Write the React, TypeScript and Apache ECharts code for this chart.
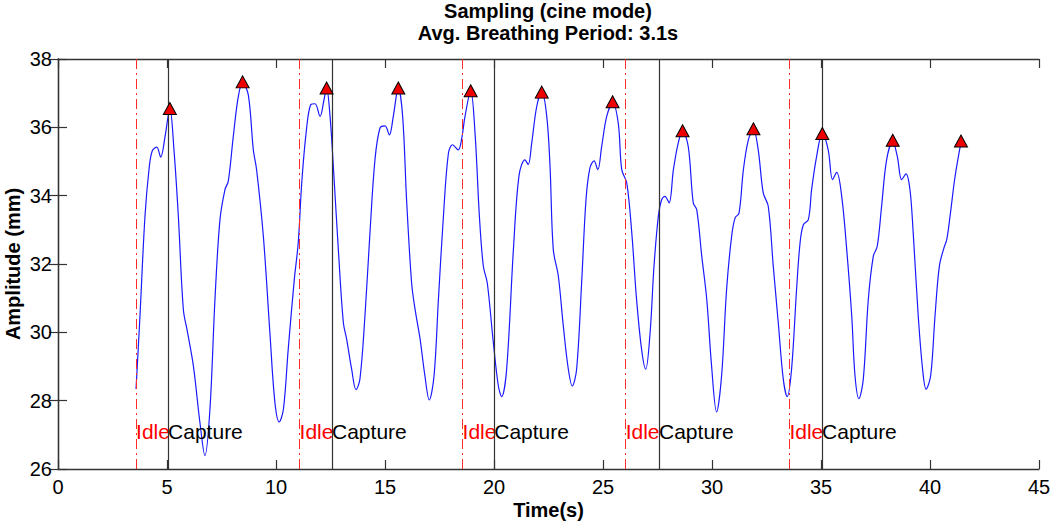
import React, { useEffect, useRef } from "react";
import * as echarts from "echarts";

const timeS = [
  3.58, 3.76, 3.99, 4.19, 4.33, 4.53, 4.71, 4.91, 5.13, 5.32, 5.52, 5.75, 5.93, 6.21, 6.51, 6.74, 6.97, 7.2, 7.43, 7.66,
  7.81, 8.04, 8.27, 8.47, 8.73, 8.96, 9.11, 9.42, 9.72, 9.95, 10.15, 10.34, 10.56, 10.84, 11.02, 11.18, 11.38, 11.59,
  11.79, 12.02, 12.2, 12.32, 12.48, 12.63, 12.86, 13.09, 13.24, 13.47, 13.67, 13.85, 14.08, 14.31, 14.54, 14.77, 15.0,
  15.2, 15.38, 15.61, 15.81, 15.99, 16.22, 16.38, 16.61, 16.83, 17.03, 17.25, 17.45, 17.68, 17.91, 18.1, 18.36, 18.52,
  18.67, 18.93, 19.13, 19.33, 19.51, 19.69, 19.97, 20.2, 20.35, 20.58, 20.89, 21.15, 21.42, 21.57, 21.73, 21.96, 22.19,
  22.42, 22.57, 22.72, 22.95, 23.18, 23.41, 23.59, 23.79, 24.02, 24.22, 24.4, 24.59, 24.76, 24.94, 25.17, 25.44, 25.7,
  25.86, 26.09, 26.32, 26.54, 26.77, 26.96, 27.16, 27.34, 27.54, 27.69, 27.84, 28.03, 28.23, 28.45, 28.65, 28.91, 29.14,
  29.3, 29.53, 29.76, 29.98, 30.21, 30.44, 30.67, 30.9, 31.06, 31.24, 31.44, 31.67, 31.9, 32.12, 32.35, 32.58, 32.81,
  33.04, 33.27, 33.45, 33.65, 33.88, 34.04, 34.19, 34.42, 34.57, 34.8, 35.06, 35.33, 35.53, 35.72, 35.95, 36.18, 36.41,
  36.56, 36.74, 36.94, 37.17, 37.4, 37.58, 37.78, 38.01, 38.29, 38.5, 38.7, 38.9, 39.08, 39.23, 39.46, 39.66, 39.82,
  40.03, 40.23, 40.43, 40.64, 40.77, 40.92, 41.15, 41.42,
];
const amplitudeMm = [
  28.34, 30.48, 33.4, 34.86, 35.32, 35.42, 35.13, 35.73, 36.55, 35.34, 33.4, 30.67, 30.04, 29.02, 27.36, 26.39, 27.75,
  30.96, 33.3, 34.18, 34.42, 35.73, 36.9, 37.3, 36.95, 35.34, 34.76, 32.81, 29.99, 27.95, 27.38, 27.75, 29.5, 31.55,
  32.62, 34.37, 35.83, 36.66, 36.69, 36.32, 36.8, 37.15, 36.32, 34.86, 32.42, 30.28, 29.8, 28.92, 28.32, 28.63, 30.48,
  32.91, 35.05, 35.98, 36.04, 35.78, 36.32, 37.15, 36.32, 33.88, 31.45, 30.67, 29.8, 28.73, 28.02, 28.73, 30.96, 33.4,
  35.25, 35.49, 35.34, 35.68, 36.32, 37.07, 35.83, 33.4, 31.94, 31.45, 29.7, 28.43, 28.12, 28.92, 32.42, 34.6, 35.05,
  34.91, 35.54, 36.61, 37.05, 36.32, 34.86, 32.42, 31.65, 30.18, 28.92, 28.43, 28.92, 31.45, 33.88, 34.81, 35.02, 34.76,
  35.44, 36.32, 36.72, 36.12, 34.76, 34.37, 32.91, 30.96, 29.5, 28.92, 29.99, 31.94, 33.4, 33.88, 33.98, 33.79, 34.76,
  35.54, 35.88, 35.44, 33.79, 33.59, 32.23, 30.96, 29.02, 27.67, 28.73, 31.26, 32.81, 33.35, 33.49, 34.76, 35.64, 35.93,
  35.34, 34.08, 33.69, 31.94, 30.28, 28.63, 28.12, 28.92, 31.26, 32.62, 33.15, 33.3, 34.18, 35.15, 35.83, 35.34, 34.47,
  34.68, 33.98, 32.42, 30.48, 28.73, 28.06, 28.63, 30.96, 32.23, 32.52, 33.69, 35.05, 35.59, 35.15, 34.47, 34.64, 34.18,
  32.91, 30.48, 28.92, 28.34, 28.73, 30.48, 31.94, 32.47, 32.72, 33.4, 34.56, 35.56,
];
const peakTime = [5.13, 8.47, 12.32, 15.61, 18.93, 22.19, 25.44, 28.65, 31.9, 35.06, 38.29, 41.42];
const peakAmp = [36.55, 37.33, 37.15, 37.15, 37.07, 37.03, 36.75, 35.9, 35.96, 35.82, 35.62, 35.6];
const idleStarts = [3.58, 11.08, 18.56, 26.04, 33.55];
const captureStarts = [5.05, 12.57, 20.01, 27.57, 35.05];
const phaseLabelY = 27.1;
const titleLines = ["Sampling (cine mode)", "Avg. Breathing Period: 3.1s"];

const FONT = "'Liberation Sans', Arial, Helvetica, sans-serif";

export default function App() {
  const ref = useRef<HTMLDivElement>(null);
  useEffect(() => {
    document.body.style.margin = "0";
    const chart = echarts.init(ref.current!, null, { renderer: "svg" });
    const axisColor = "#333";
    const tick = { show: true, inside: true, length: 9, lineStyle: { color: axisColor, width: 1.2 } };
    const axLine = { show: true, lineStyle: { color: axisColor, width: 1.3 } };
    chart.setOption({
      animation: false,
      backgroundColor: "#fff",
      textStyle: { fontFamily: FONT },
      title: {
        text: titleLines.join("\n"),
        left: 548,
        textAlign: "center",
        top: 0,
        padding: 0,
        textStyle: { fontFamily: FONT, fontWeight: "bold", fontSize: 20, lineHeight: 22, color: "#000" },
      },
      grid: { left: 58, right: 11, top: 59, bottom: 56, outerBoundsMode: "none", containLabel: false },
      xAxis: [
        {
          type: "value",
          min: 0,
          max: 45,
          interval: 5,
          name: "Time(s)",
          nameLocation: "middle",
          nameGap: 31,
          nameMoveOverlap: false,
          nameTextStyle: { fontFamily: FONT, fontWeight: "bold", fontSize: 20, color: "#000" },
          axisLine: axLine,
          axisTick: tick,
          splitLine: { show: false },
          axisLabel: { fontFamily: FONT, fontSize: 20, color: "#000", margin: 8 },
        },
        {
          type: "value",
          position: "top",
          min: 0,
          max: 45,
          interval: 5,
          axisLine: axLine,
          axisTick: tick,
          splitLine: { show: false },
          axisLabel: { show: false },
        },
      ],
      yAxis: [
        {
          type: "value",
          min: 26,
          max: 38,
          interval: 2,
          name: "Amplitude (mm)",
          nameLocation: "middle",
          nameGap: 35,
          nameMoveOverlap: false,
          nameTextStyle: { fontFamily: FONT, fontWeight: "bold", fontSize: 20, color: "#000" },
          axisLine: axLine,
          axisTick: tick,
          splitLine: { show: false },
          axisLabel: { fontFamily: FONT, fontSize: 20, color: "#000", margin: 6 },
        },
        {
          type: "value",
          position: "right",
          min: 26,
          max: 38,
          interval: 2,
          axisLine: axLine,
          axisTick: tick,
          splitLine: { show: false },
          axisLabel: { show: false },
        },
      ],
      series: [
        {
          type: "line",
          data: timeS.map((t, i) => [t, amplitudeMm[i]]),
          showSymbol: false,
          smooth: 0.35,
          lineStyle: { color: "#1a1aff", width: 1.2 },
          z: 3,
          markLine: {
            silent: true,
            symbol: ["none", "none"],
            label: { show: false },
            data: [
              ...idleStarts.map((x) => ({
                xAxis: x,
                lineStyle: { color: "#ff2a2a", width: 1, type: [10, 4, 2, 4] },
              })),
              ...captureStarts.map((x) => ({
                xAxis: x,
                lineStyle: { color: "#333", width: 1.2, type: "solid" },
              })),
            ],
          },
        },
        {
          type: "scatter",
          data: peakTime.map((t, i) => [t, peakAmp[i]]),
          symbol: "triangle",
          symbolSize: [13, 12],
          itemStyle: { color: "#ee0000", borderColor: "#000", borderWidth: 1, opacity: 1 },
          z: 5,
        },
        {
          type: "scatter",
          data: idleStarts.map((x) => [x, phaseLabelY]),
          symbolSize: 0,
          silent: true,
          itemStyle: { opacity: 1 },
          label: {
            show: true,
            formatter: "Idle",
            position: "right",
            distance: 0,
            fontFamily: FONT,
            fontSize: 21,
            color: "#ff0000",
            opacity: 1,
          },
          z: 4,
        },
        {
          type: "scatter",
          data: captureStarts.map((x) => [x, phaseLabelY]),
          symbolSize: 0,
          silent: true,
          itemStyle: { opacity: 1 },
          label: {
            show: true,
            formatter: "Capture",
            position: "right",
            distance: 0,
            fontFamily: FONT,
            fontSize: 21,
            color: "#000",
            opacity: 1,
          },
          z: 4,
        },
      ],
    });
    return () => chart.dispose();
  }, []);
  return <div ref={ref} style={{ width: 1050, height: 525 }} />;
}
